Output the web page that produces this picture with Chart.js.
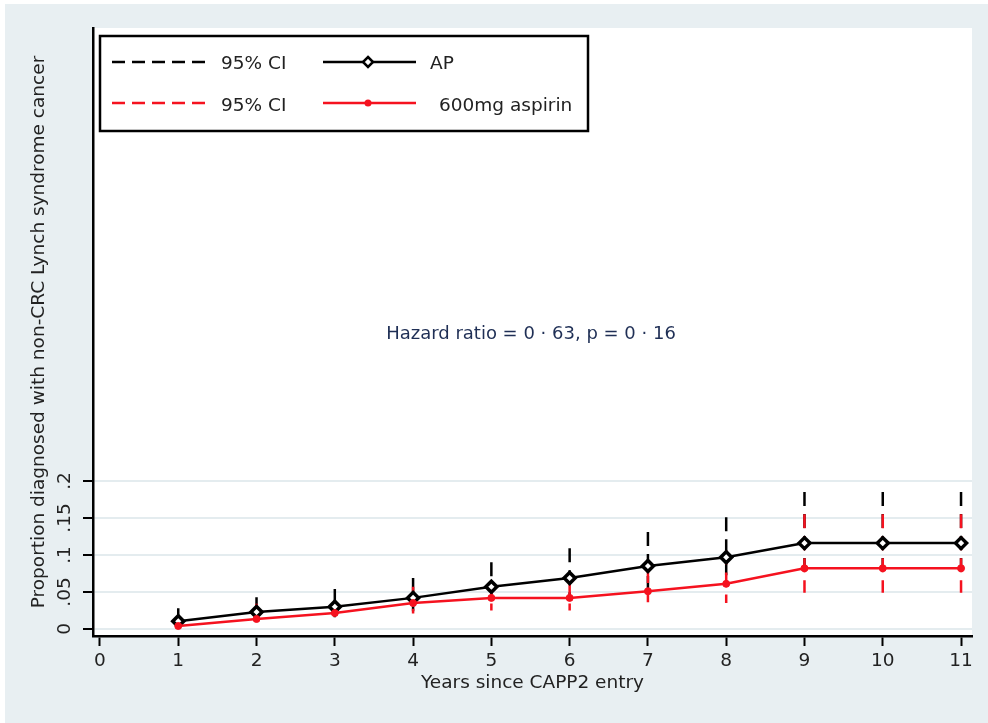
<!DOCTYPE html>
<html>
<head>
<meta charset="utf-8">
<script src="https://cdn.jsdelivr.net/npm/chart.js@4"></script>
<style>
  html, body { margin: 0; background: #fff; overflow: hidden; }
  #wrap { position: relative; width: 988px; height: 723px; }
  #c { position: absolute; left: 0; top: 0; }
  #overlay { position: absolute; left: 0; top: 0; pointer-events: none; }
  #overlay text { font-family: "DejaVu Sans", sans-serif; font-size: 18.5px; fill: #222; }
  #overlay text.note { fill: #1f2f55; font-size: 18px; }
</style>
</head>
<body>
<div id="wrap">
  <canvas id="c" width="988" height="723"></canvas>
  <svg id="overlay" width="988" height="723">
    <rect x="100" y="36" width="488" height="95" fill="#fff" stroke="#000" stroke-width="2.5"/>
    <line x1="112" y1="62" x2="205" y2="62" stroke="#000" stroke-width="2.5" stroke-dasharray="13 7"/>
    <text x="221" y="62" dominant-baseline="central">95% CI</text>
    <line x1="323" y1="62" x2="416" y2="62" stroke="#000" stroke-width="2.5"/>
    <polygon points="368,57 373,62 368,67 363,62" fill="#fff" stroke="#000" stroke-width="2.5"/>
    <text x="430" y="62" dominant-baseline="central">AP</text>
    <line x1="112" y1="103" x2="205" y2="103" stroke="#f5121f" stroke-width="2.5" stroke-dasharray="13 7"/>
    <text x="221" y="104" dominant-baseline="central">95% CI</text>
    <line x1="323" y1="103" x2="416" y2="103" stroke="#f5121f" stroke-width="2.5"/>
    <circle cx="368" cy="103" r="3.5" fill="#f5121f"/>
    <text x="439" y="104" dominant-baseline="central">600mg aspirin</text>
    <text class="note" x="531" y="332" text-anchor="middle" dominant-baseline="central">Hazard ratio = 0 · 63, p = 0 · 16</text>
  </svg>
</div>
<script>
// cumulative proportion with non-CRC Lynch syndrome cancer
const years = [1, 2, 3, 4, 5, 6, 7, 8, 9, 10, 11];
const apRisk  = [0.0105, 0.023, 0.030, 0.042, 0.057, 0.069, 0.085, 0.097, 0.116, 0.116, 0.116];
const apUpper = [0.028, 0.043, 0.054, 0.069, 0.090, 0.109, 0.131, 0.151, 0.185, 0.185, 0.185];
const apLower = [0.003, 0.010, 0.016, 0.024, 0.034, 0.043, 0.055, 0.062, 0.072, 0.072, 0.072];
const aspRisk  = [0.004, 0.0135, 0.0215, 0.035, 0.042, 0.042, 0.051, 0.061, 0.082, 0.082, 0.082];
const aspUpper = [0.010, 0.034, 0.037, 0.057, 0.064, 0.064, 0.081, 0.106, 0.155, 0.155, 0.155];
const aspLower = [0.000, 0.008, 0.015, 0.021, 0.025, 0.025, 0.036, 0.035, 0.049, 0.049, 0.049];

const xTicks = [0, 1, 2, 3, 4, 5, 6, 7, 8, 9, 10, 11];
const yTickValues = [0, 0.05, 0.1, 0.15, 0.2];
const yTickLabels = ['0', '.05', '.1', '.15', '.2'];

const BLACK = '#000';
const RED = '#f5121f';

// vertical spikes: upper -> lower, gap after each
function spikes(hi, lo) {
  const pts = [];
  years.forEach((x, i) => {
    pts.push({ x, y: hi[i] }, { x, y: lo[i] }, { x, y: null });
  });
  return pts;
}
const line = (ys) => years.map((x, i) => ({ x, y: ys[i] }));

const bgPlugin = {
  id: 'bg',
  beforeDraw(chart) {
    const { ctx, chartArea: a } = chart;
    ctx.save();
    ctx.fillStyle = '#e8eff2';
    ctx.fillRect(5, 4, chart.width - 5, chart.height - 4);
    ctx.fillStyle = '#fff';
    ctx.fillRect(a.left, a.top, a.right - a.left, a.bottom - a.top);
    ctx.restore();
  }
};

Chart.defaults.font.family = '"DejaVu Sans", sans-serif';
Chart.defaults.font.size = 18.5;
Chart.defaults.color = '#222';

new Chart(document.getElementById('c'), {
  type: 'line',
  data: {
    datasets: [
      { label: '600mg aspirin', data: line(aspRisk), borderColor: RED, backgroundColor: RED,
        borderWidth: 2.5, pointStyle: 'circle', pointRadius: 3.5, pointBorderWidth: 1 },
      { label: 'AP', data: line(apRisk), borderColor: BLACK, backgroundColor: '#fff',
        borderWidth: 2.5, pointStyle: 'rectRot', pointRadius: 5.5, pointBorderWidth: 3.5 },
      { label: '95% CI', data: spikes(aspUpper, aspLower), borderColor: RED, borderWidth: 2.5,
        borderDash: [14, 8], pointRadius: 0, spanGaps: false },
      { label: '95% CI', data: spikes(apUpper, apLower), borderColor: BLACK, borderWidth: 2.5,
        borderDash: [14, 8], pointRadius: 0, spanGaps: false }
    ]
  },
  options: {
    responsive: false,
    animation: false,
    devicePixelRatio: 1,
    layout: { padding: { top: 28, right: 16, left: 0, bottom: 0 } },
    plugins: { legend: { display: false }, tooltip: { enabled: false } },
    scales: {
      x: {
        type: 'linear',
        min: -0.089, max: 11.14,
        afterBuildTicks: (s) => { s.ticks = xTicks.map(v => ({ value: v })); },
        afterFit: (s) => { s.height = 87; },
        ticks: { padding: 4, maxRotation: 0, autoSkip: false },
        grid: { drawOnChartArea: false, tickLength: 10, tickColor: BLACK, tickWidth: 2 },
        border: { color: BLACK, width: 2.5 },
        title: { display: true, text: 'Years since CAPP2 entry', color: '#222',
                 font: { size: 18.5 }, padding: { top: 0, bottom: 29 } }
      },
      y: {
        type: 'linear',
        min: -0.0095, max: 0.812,
        afterBuildTicks: (s) => { s.ticks = yTickValues.map(v => ({ value: v })); },
        afterFit: (s) => { s.width = 93; },
        ticks: {
          minRotation: 90, maxRotation: 90, crossAlign: 'center', padding: 3, autoSkip: false,
          callback: (v, i) => yTickLabels[i]
        },
        grid: { color: '#e4ecef', lineWidth: 2, tickLength: 10, tickColor: BLACK, tickWidth: 2 },
        border: { color: BLACK, width: 2.5 },
        title: { display: true, text: 'Proportion diagnosed with non-CRC Lynch syndrome cancer',
                 color: '#222', font: { size: 18.5 }, padding: { top: 28, bottom: 0 } }
      }
    }
  },
  plugins: [bgPlugin]
});
</script>
</body>
</html>
